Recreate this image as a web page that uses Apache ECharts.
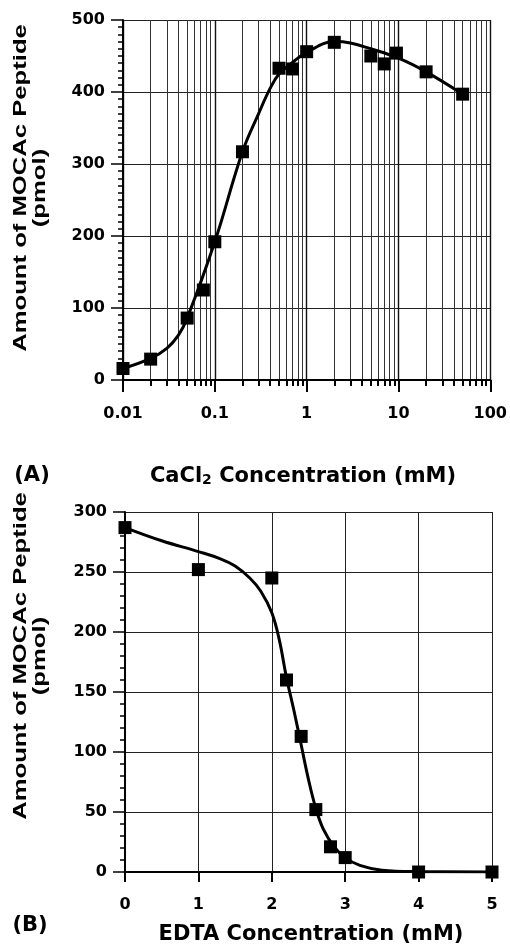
<!DOCTYPE html>
<html>
<head>
<meta charset="utf-8">
<script src="https://cdn.jsdelivr.net/npm/echarts@6/dist/echarts.min.js"></script>
<style>
  html, body { margin: 0; padding: 0; background: #fff; }
  #chart { width: 510px; height: 947px; }
</style>
</head>
<body>
<div id="chart"></div>
<script>
// (A) CaCl2 series - measured points
const caConc = [0.01, 0.02, 0.05, 0.075, 0.1, 0.2, 0.5, 0.7, 1, 2, 5, 7, 9.5, 20, 50];
const caAmount = [16, 29, 86, 125, 192, 317, 433, 432, 456, 469, 450, 439, 454, 428, 397];
// (A) fitted curve
const caFitConc = [0.01, 0.02, 0.03, 0.04, 0.05, 0.1, 0.2, 0.3, 0.4, 0.5, 0.7, 1, 2, 3, 5, 10, 20, 50];
const caFitAmount = [16, 30, 44, 62, 86, 192, 317, 370, 405, 425, 441, 455, 470, 468, 460, 447, 428, 397];

// (B) EDTA series - measured points
const edtaConc = [0, 1, 2, 2.2, 2.4, 2.6, 2.8, 3, 4, 5];
const edtaAmount = [287, 252, 245, 160, 113, 52, 21, 12, 0, 0];
// (B) fitted curve
const edtaFitConc = [0, 0.5, 1, 1.3, 1.5, 1.7, 1.85, 2.0, 2.1, 2.2, 2.3, 2.4, 2.5, 2.6, 2.7, 2.85, 3, 3.2, 3.5, 4, 5];
const edtaFitAmount = [287, 276, 267, 261, 255, 245, 234, 216, 194, 162, 135, 106, 77, 53, 36, 21, 12, 5.5, 1.5, 0.3, 0];

const yTitle = 'Amount of MOCAc Peptide\n(pmol)';

const chart = echarts.init(document.getElementById('chart'));

const black = '#000';
const tickFont = { color: black, fontSize: 16, fontWeight: 'bold', fontFamily: 'DejaVu Sans' };
const gridLine = { show: true, lineStyle: { color: '#222', width: 1 } };

function pairs(xs, ys) {
  return xs.map((x, i) => [x, ys[i]]);
}

const option = {
  backgroundColor: '#fff',
  animation: false,
  grid: [
    { left: 123, top: 20, width: 369, height: 360 },
    { left: 125, top: 512, width: 367, height: 360 }
  ],
  xAxis: [
    {
      gridIndex: 0,
      type: 'log',
      logBase: 10,
      min: 0.01,
      max: 100,
      axisLine: { lineStyle: { color: black, width: 2 } },
      axisTick: { show: true, length: 12, lineStyle: { color: black, width: 2 } },
      minorTick: { show: true, splitNumber: 9, length: 6, lineStyle: { color: black, width: 2 } },
      splitLine: { show: true, lineStyle: { color: '#111', width: 1.4 } },
      minorSplitLine: { show: true, lineStyle: { color: '#333', width: 1 } },
      axisLabel: Object.assign({ margin: 26, formatter: v => String(parseFloat(v.toPrecision(3))) }, tickFont)
    },
    {
      gridIndex: 1,
      type: 'value',
      min: 0,
      max: 5,
      interval: 1,
      axisLine: { lineStyle: { color: black, width: 2 } },
      axisTick: { show: true, length: 10, lineStyle: { color: black, width: 2 } },
      splitLine: gridLine,
      axisLabel: Object.assign({ margin: 25 }, tickFont)
    }
  ],
  yAxis: [
    {
      gridIndex: 0,
      type: 'value',
      min: 0,
      max: 500,
      interval: 100,
      axisLine: { show: true, lineStyle: { color: black, width: 2 } },
      axisTick: { show: true, length: 12, lineStyle: { color: black, width: 1.5 } },
      minorTick: { show: true, splitNumber: 10, length: 5, lineStyle: { color: black, width: 1.5 } },
      splitLine: gridLine,
      axisLabel: Object.assign({ margin: 18 }, tickFont)
    },
    {
      gridIndex: 1,
      type: 'value',
      min: 0,
      max: 300,
      interval: 50,
      axisLine: { show: true, lineStyle: { color: black, width: 2 } },
      axisTick: { show: true, length: 12, lineStyle: { color: black, width: 1.5 } },
      minorTick: { show: true, splitNumber: 5, length: 5, lineStyle: { color: black, width: 1.5 } },
      splitLine: gridLine,
      axisLabel: Object.assign({ margin: 18 }, tickFont)
    }
  ],
  series: [
    {
      type: 'line',
      xAxisIndex: 0, yAxisIndex: 0,
      data: pairs(caFitConc, caFitAmount),
      smooth: 0.4,
      showSymbol: false,
      lineStyle: { color: black, width: 3 },
      z: 3
    },
    {
      type: 'scatter',
      xAxisIndex: 0, yAxisIndex: 0,
      data: pairs(caConc, caAmount),
      symbol: 'rect',
      symbolSize: 13,
      itemStyle: { color: black, opacity: 1 },
      z: 4
    },
    {
      type: 'line',
      xAxisIndex: 1, yAxisIndex: 1,
      data: pairs(edtaFitConc, edtaFitAmount),
      smooth: 0.4,
      showSymbol: false,
      lineStyle: { color: black, width: 3 },
      z: 3
    },
    {
      type: 'scatter',
      xAxisIndex: 1, yAxisIndex: 1,
      data: pairs(edtaConc, edtaAmount),
      symbol: 'rect',
      symbolSize: 13,
      itemStyle: { color: black, opacity: 1 },
      z: 4
    }
  ],
  graphic: [
    {
      type: 'text', x: 30, y: 188, rotation: Math.PI / 2, scaleX: 1.35,
      style: {
        text: yTitle, fill: black, font: 'bold 19px "Liberation Sans"',
        lineHeight: 19, align: 'center', verticalAlign: 'middle',
        textAlign: 'center', textVerticalAlign: 'middle'
      }
    },
    {
      type: 'text', x: 30, y: 656, rotation: Math.PI / 2, scaleX: 1.35,
      style: {
        text: yTitle, fill: black, font: 'bold 19px "Liberation Sans"',
        lineHeight: 19, align: 'center', verticalAlign: 'middle',
        textAlign: 'center', textVerticalAlign: 'middle'
      }
    },
    {
      type: 'text', x: 303, y: 476,
      style: {
        text: '{a|CaCl}{s|2}{a| Concentration (mM)}',
        fill: black, align: 'center', verticalAlign: 'middle',
        textAlign: 'center', textVerticalAlign: 'middle',
        rich: {
          a: { fontSize: 21, fontWeight: 'bold', fontFamily: 'DejaVu Sans', lineHeight: 22, verticalAlign: 'bottom' },
          s: { fontSize: 14, fontWeight: 'bold', fontFamily: 'DejaVu Sans', lineHeight: 18, verticalAlign: 'bottom' }
        }
      }
    },
    {
      type: 'text', x: 32, y: 476,
      style: {
        text: '(A)', fill: black, font: 'bold 21px "DejaVu Sans"',
        align: 'center', verticalAlign: 'middle', textAlign: 'center', textVerticalAlign: 'middle'
      }
    },
    {
      type: 'text', x: 311, y: 935,
      style: {
        text: 'EDTA Concentration (mM)', fill: black, font: 'bold 21px "DejaVu Sans"',
        align: 'center', verticalAlign: 'middle', textAlign: 'center', textVerticalAlign: 'middle'
      }
    },
    {
      type: 'text', x: 30, y: 926,
      style: {
        text: '(B)', fill: black, font: 'bold 21px "DejaVu Sans"',
        align: 'center', verticalAlign: 'middle', textAlign: 'center', textVerticalAlign: 'middle'
      }
    }
  ]
};

chart.setOption(option);
</script>
</body>
</html>
